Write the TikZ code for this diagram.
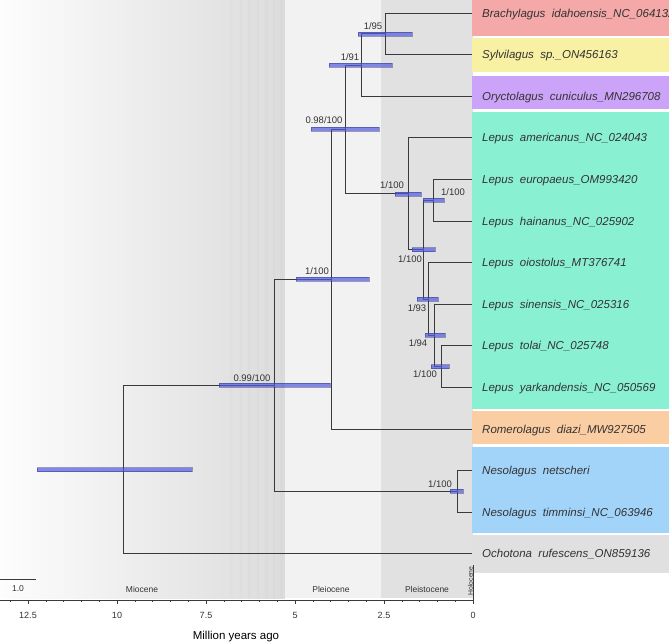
\documentclass[tikz,border=0pt]{standalone}
\usepackage{fontspec}
\setmainfont{Liberation Sans}
\definecolor{treec}{HTML}{3A3A3A}
\definecolor{txt}{HTML}{333333}
\definecolor{barc}{RGB}{80,90,225}
\definecolor{cpink}{HTML}{F5A8A8}
\definecolor{cyellow}{HTML}{F8F0A2}
\definecolor{cpurple}{HTML}{CBA3F8}
\definecolor{cgreen}{HTML}{8AF0D2}
\definecolor{corange}{HTML}{FBCDA2}
\definecolor{cblue}{HTML}{A2D4FA}
\definecolor{cgray}{HTML}{E0E0E0}
\definecolor{plio}{HTML}{F2F2F2}
\definecolor{pleis}{HTML}{E1E1E1}
\definecolor{mioL}{HTML}{FDFDFD}
\definecolor{mioR}{HTML}{DCDCDC}
\begin{document}
\begin{tikzpicture}[x=1pt,y=-1pt,
  tree/.style={draw=treec,line width=0.9pt},
  hpd/.style={fill=barc,fill opacity=0.7,draw=barc!50!black,draw opacity=0.45,line width=0.4pt},
  leaf/.style={anchor=base west,inner sep=0pt,font=\fontsize{11.5}{13}\selectfont\itshape,text=txt},
  supp/.style={inner sep=0pt,font=\fontsize{9.5}{11}\selectfont,text=txt},
  ticklab/.style={inner sep=0pt,font=\fontsize{9}{10}\selectfont,text=txt},
  epoch/.style={inner sep=0pt,font=\fontsize{8.5}{10}\selectfont,text=txt}
]
\useasboundingbox (0,0) rectangle (669,643);
\clip (0,0) rectangle (669,643);
% ---- geological time background ----
\shade[left color=mioL,right color=mioR] (0,0) rectangle (285,598);
\foreach \a/\b in {230/233,240/242,248/251,257/259,265/268,273/275,280/283}
  \fill[black,opacity=0.012] (\a,0) rectangle (\b,598);
\fill[plio] (285,0) rectangle (381,598);
\fill[pleis] (381,0) rectangle (473,598);
% ---- clade colour boxes ----
\fill[cpink]   (472,0)     rectangle (669,35.7);
\fill[cyellow] (472,38.3)  rectangle (669,71.7);
\fill[cpurple] (472,76)    rectangle (669,109.3);
\fill[cgreen]  (472,112)   rectangle (669,408.5);
\fill[corange] (472,410.7) rectangle (669,444);
\fill[cblue]   (472,447)   rectangle (669,532.5);
\fill[cgray]   (472,535)   rectangle (669,573);
% ---- leaves ----
\coordinate (l1)  at (472,13);
\coordinate (l2)  at (472,54.6);
\coordinate (l3)  at (472,96.2);
\coordinate (l4)  at (472,137.8);
\coordinate (l5)  at (472,179.4);
\coordinate (l6)  at (472,221);
\coordinate (l7)  at (472,262.6);
\coordinate (l8)  at (472,304.2);
\coordinate (l9)  at (472,345.8);
\coordinate (l10) at (472,387.4);
\coordinate (l11) at (472,429);
\coordinate (l12) at (472,470.6);
\coordinate (l13) at (472,512.2);
\coordinate (l14) at (472,553.8);
% ---- internal nodes ----
\coordinate (nbs)   at (385,33.8);
\coordinate (nbso)  at (361,65);
\coordinate (nty)   at (441,366.6);
\coordinate (nsty)  at (434,335.4);
\coordinate (nosty) at (428,299);
\coordinate (neh)   at (433,200.2);
\coordinate (nrest) at (423,249.6);
\coordinate (nlep)  at (408,193.7);
\coordinate (n098)  at (345,129.4);
\coordinate (n1100) at (331,279.2);
\coordinate (nneso) at (457,491.4);
\coordinate (n099)  at (274,385.3);
\coordinate (root)  at (123,469.6);
% ---- branches ----
\draw[tree] (root) |- (n099);  \draw[tree] (root) |- (l14);
\draw[tree] (n099) |- (n1100); \draw[tree] (n099) |- (nneso);
\draw[tree] (n1100) |- (n098); \draw[tree] (n1100) |- (l11);
\draw[tree] (n098) |- (nbso);  \draw[tree] (n098) |- (nlep);
\draw[tree] (nbso) |- (nbs);   \draw[tree] (nbso) |- (l3);
\draw[tree] (nbs) |- (l1);     \draw[tree] (nbs) |- (l2);
\draw[tree] (nlep) |- (l4);    \draw[tree] (nlep) |- (nrest);
\draw[tree] (nrest) |- (neh);  \draw[tree] (nrest) |- (nosty);
\draw[tree] (neh) |- (l5);     \draw[tree] (neh) |- (l6);
\draw[tree] (nosty) |- (l7);   \draw[tree] (nosty) |- (nsty);
\draw[tree] (nsty) |- (l8);    \draw[tree] (nsty) |- (nty);
\draw[tree] (nty) |- (l9);     \draw[tree] (nty) |- (l10);
\draw[tree] (nneso) |- (l12);  \draw[tree] (nneso) |- (l13);
% ---- 95% HPD bars ----
\path[hpd] (358,31.8) rectangle (412,35.8);
\path[hpd] (329,63) rectangle (392,67);
\path[hpd] (311,127.4) rectangle (379,131.4);
\path[hpd] (296,277.2) rectangle (369,281.2);
\path[hpd] (219,383.3) rectangle (330,387.3);
\path[hpd] (37,467.6) rectangle (192,471.6);
\path[hpd] (395,191.7) rectangle (421,195.7);
\path[hpd] (423,198.2) rectangle (444,202.2);
\path[hpd] (412,247.6) rectangle (435,251.6);
\path[hpd] (417,297) rectangle (438,301);
\path[hpd] (425,333.4) rectangle (445,337.4);
\path[hpd] (431,364.6) rectangle (449,368.6);
\path[hpd] (450,489.4) rectangle (463,493.4);
% ---- support values ----
\node[supp] (s1)  at (373,26)  {1/95};
\node[supp] (s2)  at (350,57)  {1/91};
\node[supp] (s3)  at (324,120) {0.98/100};
\node[supp] (s4)  at (317,271) {1/100};
\node[supp] (s5)  at (252,378) {0.99/100};
\node[supp] (s6)  at (392,185.5) {1/100};
\node[supp] (s7)  at (453,192.5) {1/100};
\node[supp] (s8)  at (410,259) {1/100};
\node[supp] (s9)  at (417,308) {1/93};
\node[supp] (s10) at (418,343.5) {1/94};
\node[supp] (s11) at (425,374.5) {1/100};
\node[supp] (s12) at (440,484) {1/100};
% ---- taxon labels ----
\node[leaf] (t1)  at (482,17.1)  {Brachylagus\ \ idahoensis\_NC\_064132};
\node[leaf] (t2)  at (482,58.7)  {Sylvilagus\ \ sp.\_ON456163};
\node[leaf] (t3)  at (482,100.3) {Oryctolagus\ \ cuniculus\_MN296708};
\node[leaf] (t4)  at (482,141.9) {Lepus\ \ americanus\_NC\_024043};
\node[leaf] (t5)  at (482,183.5) {Lepus\ \ europaeus\_OM993420};
\node[leaf] (t6)  at (482,225.1) {Lepus\ \ hainanus\_NC\_025902};
\node[leaf] (t7)  at (482,266.7) {Lepus\ \ oiostolus\_MT376741};
\node[leaf] (t8)  at (482,308.3) {Lepus\ \ sinensis\_NC\_025316};
\node[leaf] (t9)  at (482,349.9) {Lepus\ \ tolai\_NC\_025748};
\node[leaf] (t10) at (482,391.5) {Lepus\ \ yarkandensis\_NC\_050569};
\node[leaf] (t11) at (482,433.1) {Romerolagus\ \ diazi\_MW927505};
\node[leaf] (t12) at (482,474.7) {Nesolagus\ \ netscheri};
\node[leaf] (t13) at (482,516.3) {Nesolagus\ \ timminsi\_NC\_063946};
\node[leaf] (t14) at (482,557.9) {Ochotona\ \ rufescens\_ON859136};
% ---- scale bar ----
\draw[treec,line width=0.9pt] (0,579) -- (36,579);
\node[epoch] (sb) at (18,589) {1.0};
% ---- epochs ----
\node[epoch] (e1) at (142,589.5) {Miocene};
\node[epoch] (e2) at (331,589.5) {Pleiocene};
\node[epoch] (e3) at (427,589.5) {Pleistocene};
\node[inner sep=0pt,font=\fontsize{6.8}{8}\selectfont,text=txt,rotate=90] (e4) at (470.5,581) {Holocene};
\draw[treec,line width=0.5pt] (473,565) -- (473,600);
% ---- time axis ----
\draw[treec,line width=0.8pt] (0,600) -- (473,600);
\foreach \t in {0.5,1,...,13}
  \draw[treec,line width=0.6pt] ({473-35.6*\t},600) -- ({473-35.6*\t},602);
\foreach \t/\lab in {0/0,2.5/2.5,5/5,7.5/7.5,10/10,12.5/12.5}{
  \draw[treec,line width=0.8pt] ({473-35.6*\t},600) -- ({473-35.6*\t},604);
  \node[ticklab] at ({473-35.6*\t},615) {\lab};
}
\node[inner sep=0pt,font=\fontsize{11.5}{13}\selectfont,text=black] (xlab) at (236,637) {Million years ago};
\end{tikzpicture}
\end{document}
